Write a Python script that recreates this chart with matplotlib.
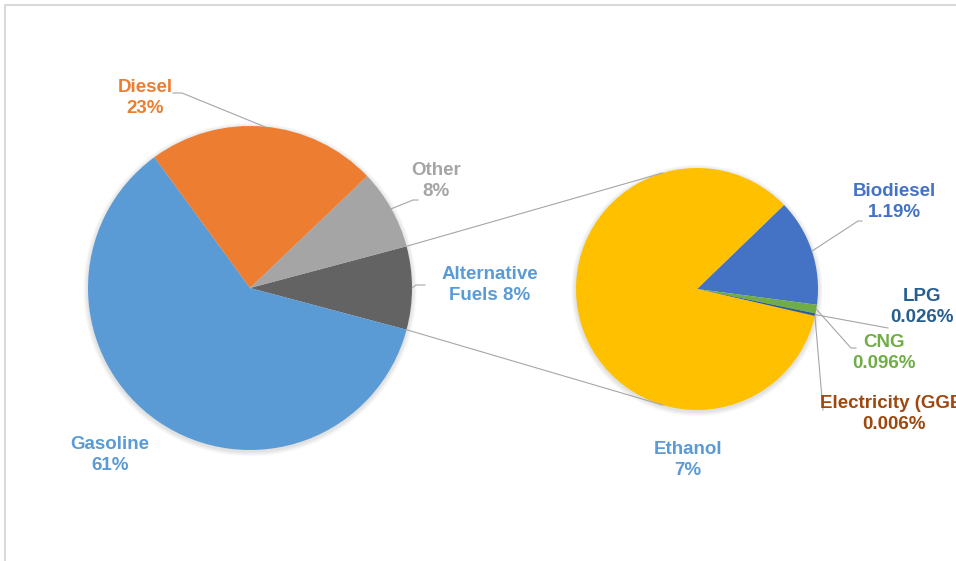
import matplotlib.pyplot as plt
from matplotlib.patches import Circle
import numpy as np

# Anteile am Kraftstoffverbrauch in Prozent
main_names = ["Gasoline", "Diesel", "Other"]
main_values = [61, 23, 8]
alt_name = "Alternative Fuels"

sub_names = ["Biodiesel", "CNG", "LPG", "Electricity (GGE)", "Ethanol"]
sub_values = [1.19, 0.096, 0.026, 0.006, 7]
alt_value = sum(sub_values)

main_colors = ["#5B9BD5", "#ED7D31", "#A5A5A5"]
alt_color = "#636363"
sub_colors = ["#4472C4", "#70AD47", "#255E91", "#9E480E", "#FFC000"]
sub_label_colors = ["#4472C4", "#70AD47", "#255E91", "#9E480E", "#5B9BD5"]

W, H = 956, 561
fig = plt.figure(figsize=(W / 100, H / 100), dpi=100)
ax = fig.add_axes([0, 0, 1, 1])


def py(y):
    # Pixel von oben -> Datenkoordinate
    return H - y


c1, r1 = (250, py(288)), 162
c2, r2 = (697, py(289)), 121

# weicher Schatten unter den Kreisen
for c, r in [(c1, r1), (c2, r2)]:
    for k in range(6):
        ax.add_patch(Circle((c[0], c[1] - 1.5), r + 0.8 * (6 - k), color="black",
                            alpha=0.018, lw=0, zorder=1))

# linker Kreis: Alternative Fuels rechts mittig
vals1 = [alt_value] + main_values
cols1 = [alt_color] + main_colors
half = 360 * alt_value / sum(vals1) / 2
w1, _ = ax.pie(vals1, colors=cols1, center=c1, radius=r1, startangle=half,
               counterclock=False, wedgeprops=dict(linewidth=0), frame=True)

# rechter Kreis
w2, _ = ax.pie(sub_values, colors=sub_colors, center=c2, radius=r2, startangle=44,
               counterclock=False, wedgeprops=dict(linewidth=0), frame=True)
for w in w1 + w2:
    w.set_zorder(2)

ax.set_xlim(0, W)
ax.set_ylim(0, H)
ax.set_aspect("equal")
ax.axis("off")

# Verbindungslinien zwischen den Kreisen
line_kw = dict(color="#A6A6A6", lw=0.8, zorder=3)
for sgn in (1, -1):
    a1 = np.radians(sgn * half)
    a2 = np.radians(sgn * 106.5)
    ax.plot([c1[0] + r1 * np.cos(a1), c2[0] + r2 * np.cos(a2)],
            [c1[1] + r1 * np.sin(a1), c2[1] + r2 * np.sin(a2)], **line_kw)


def edge_point(wedge, c, r):
    m = np.radians((wedge.theta1 + wedge.theta2) / 2)
    return c[0] + r * np.cos(m), c[1] + r * np.sin(m)


def leader(wedge, c, r, pts):
    x0, y0 = edge_point(wedge, c, r)
    xs = [x0] + [p[0] for p in pts]
    ys = [y0] + [py(p[1]) for p in pts]
    ax.plot(xs, ys, **line_kw)


font = dict(family=["Liberation Sans", "DejaVu Sans"],
            fontsize=13.5, fontweight="bold", ha="center", va="center",
            linespacing=1.35, zorder=4)

# Beschriftungen linker Kreis
ax.text(110, py(455), f"{main_names[0]}\n{main_values[0]}%", color=main_colors[0], **font)
ax.text(145, py(98), f"{main_names[1]}\n{main_values[1]}%", color=main_colors[1], **font)
ax.text(436, py(181), f"{main_names[2]}\n{main_values[2]}%", color=main_colors[2], **font)
ax.text(490, py(285), "Alternative\nFuels %d%%" % round(alt_value), color=main_colors[0], **font)

leader(w1[2], c1, r1, [(182, 93), (173, 93)])
leader(w1[3], c1, r1, [(413, 200), (418, 200)])
leader(w1[0], c1, r1, [(416, 285), (425, 285)])

# Beschriftungen rechter Kreis
sub_pos = [(894, 202), (884, 353), (922, 307), (894, 414), (688, 460)]
for name, v, col, (x, y) in zip(sub_names, sub_values, sub_label_colors, sub_pos):
    ax.text(x, py(y), f"{name}\n{v:g}%", color=col, **font)

leader(w2[0], c2, r2, [(858, 221), (862, 221)])
leader(w2[1], c2, r2, [(851, 348), (856, 348)])
leader(w2[2], c2, r2, [(888, 328)])
leader(w2[3], c2, r2, [(823, 410)])

# Rahmen oben und links
ax.plot([5, 5, W + 5], [0, py(5), py(5)], color="#D9D9D9", lw=1.5, zorder=0,
        clip_on=False)

fig.savefig("out.png", dpi=100)
